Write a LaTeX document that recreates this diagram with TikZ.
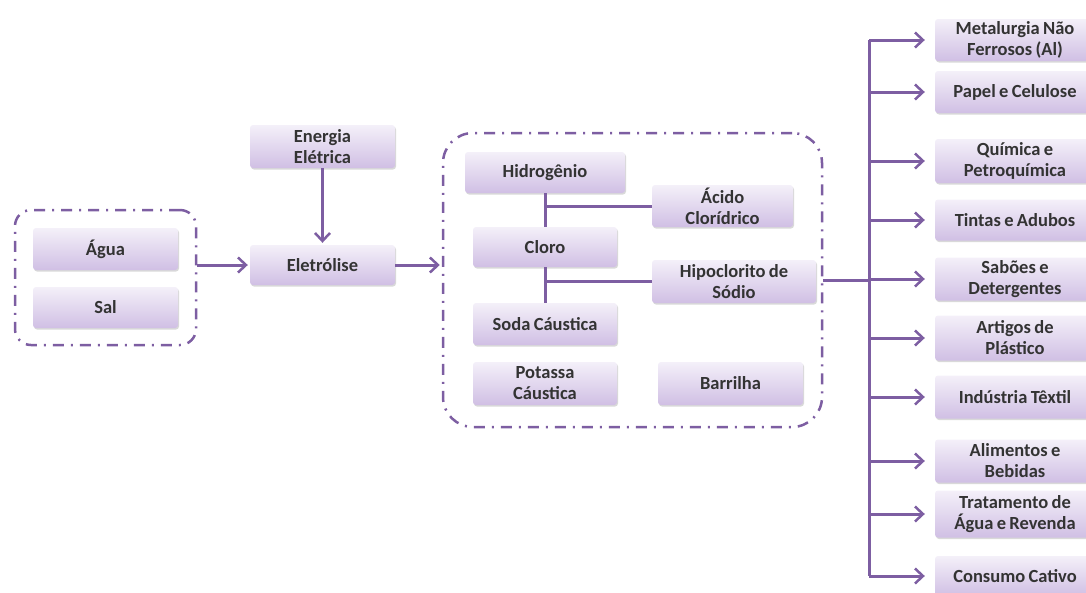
\documentclass[tikz,border=0pt]{standalone}
\usepackage{fontspec}
\setmainfont{Carlito}[WordSpace=0.8]
\usetikzlibrary{arrows.meta,shadows}
\definecolor{lc}{HTML}{7D5EA2}
\definecolor{bt}{HTML}{F4F0F9}
\definecolor{bb}{HTML}{D0BFE4}
\definecolor{tc}{HTML}{333333}
\newcommand{\bfnt}{\bfseries\fontsize{18.5}{21}\selectfont}
\begin{document}
\begin{tikzpicture}[x=1pt,y=-1pt,
  box/.style={rectangle, rounded corners=3pt, top color=bt, bottom color=bb, draw=none,
    text=tc, font=\bfnt, align=center, inner sep=0pt,
    drop shadow={opacity=0.25, shadow xshift=1pt, shadow yshift=-1.5pt, fill=black!60}},
  grp/.style={rectangle, draw=lc, line width=2.5pt, dash pattern=on 11pt off 7pt on 2pt off 7pt, inner sep=0pt},
  conn/.style={draw=lc, line width=3pt},
  arr/.style={conn, -{Straight Barb[length=8pt,width=15pt,line width=2.5pt]}, shorten >=2pt},
  rarr/.style={arr, shorten >=10pt},
  rbox/.style={box, minimum width=160}
]
\useasboundingbox (0,0) rectangle (1086,592);

% left group
\node[grp, rounded corners=16pt, minimum width=181, minimum height=135] (grpL) at (105.5,277.5) {};
\node[box, minimum width=145, minimum height=42] (agua) at (105.5,249) {Água};
\node[box, minimum width=145, minimum height=41] (sal) at (105.5,307.5) {Sal};

\node[box, minimum width=145, minimum height=43] (energia) at (322.5,146.5) {Energia\\Elétrica};
\node[box, minimum width=145, minimum height=40] (eletro) at (322.5,265) {Eletrólise};

% middle group
\node[grp, rounded corners=30pt, minimum width=379, minimum height=294] (grpM) at (632.5,280) {};
\node[box, minimum width=160, minimum height=41] (hidro) at (545,172.5) {Hidrogênio};
\node[box, minimum width=141, minimum height=42] (acido) at (722.5,206) {Ácido\\Clorídrico};
\node[box, minimum width=144, minimum height=40] (cloro) at (545,247) {Cloro};
\node[box, minimum width=164, minimum height=43] (hipo) at (734,281.5) {Hipoclorito de\\Sódio};
\node[box, minimum width=144, minimum height=42] (soda) at (545,324) {Soda Cáustica};
\node[box, minimum width=144, minimum height=43] (potassa) at (545,383.5) {Potassa\\Cáustica};
\node[box, minimum width=145, minimum height=43] (barrilha) at (730.5,383.5) {Barrilha};

% right boxes
\node[rbox, minimum height=42] (met) at (1015,40) {Metalurgia Não\\Ferrosos (Al)};
\node[rbox, minimum height=42] (papel) at (1015,92) {Papel e Celulose};
\node[rbox, minimum height=44] (quim) at (1015,161) {Química e\\Petroquímica};
\node[rbox, minimum height=41] (tintas) at (1015,220) {Tintas e Adubos};
\node[rbox, minimum height=43] (saboes) at (1015,279) {Sabões e\\Detergentes};
\node[rbox, minimum height=45] (artigos) at (1015,338) {Artigos de\\Plástico};
\node[rbox, minimum height=43] (textil) at (1015,397) {Indústria Têxtil};
\node[rbox, minimum height=43] (alim) at (1015,461) {Alimentos e\\Bebidas};
\node[rbox, minimum height=47] (trat) at (1015,514) {Tratamento de\\Água e Revenda};
\node[rbox, minimum height=40] (consumo) at (1015,576) {Consumo Cativo};

% connectors
\draw[arr] (energia) -- (eletro);
\draw[arr] (grpL.east |- eletro) -- (eletro);
\draw[arr] (eletro) -- (grpM.west |- eletro);

\draw[conn] (hidro.south) -- (cloro.north);
\draw[conn] (hidro.south |- acido.west) -- (acido.west);
\draw[conn] (cloro.south) -- (soda.north);
\draw[conn] (cloro.south |- hipo.west) -- (hipo.west);

\coordinate (ttop) at (869,40);
\coordinate (tbot) at (869,576);
\draw[conn] (grpM.east) -- (grpM.east -| ttop);
\draw[conn] (ttop) -- (tbot);
\foreach \b in {met,papel,quim,tintas,saboes,artigos,textil,alim,trat,consumo}{
  \draw[rarr] (ttop |- \b.west) -- (\b.west);
}
\end{tikzpicture}
\end{document}
